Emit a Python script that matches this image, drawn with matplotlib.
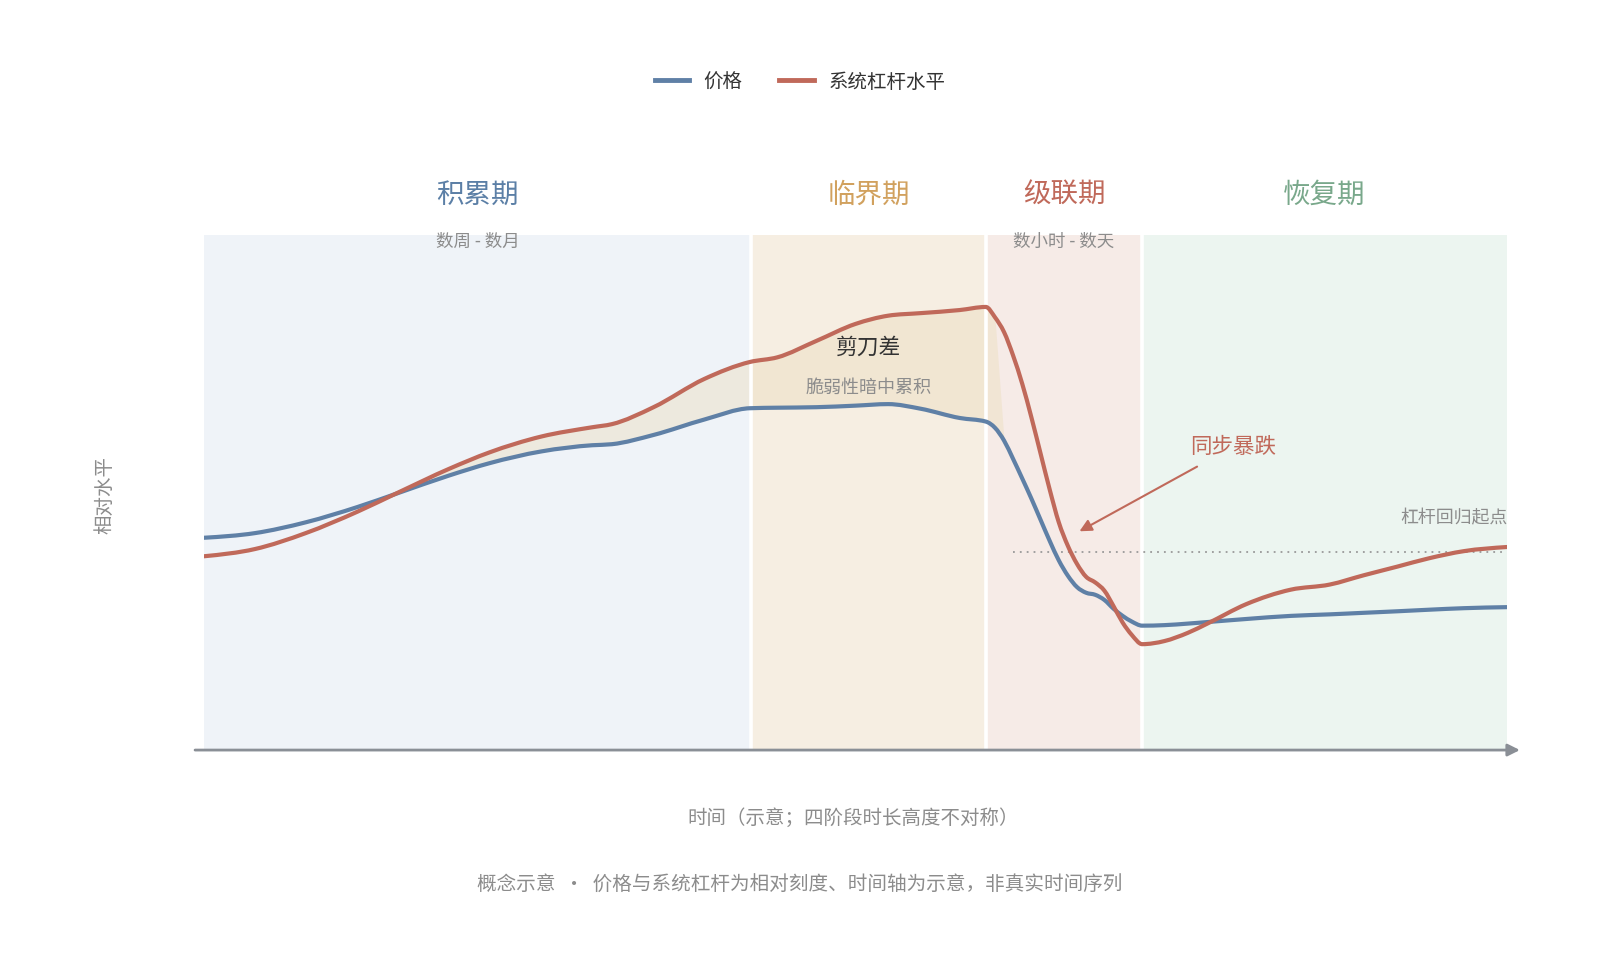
import matplotlib
matplotlib.use("Agg")
import matplotlib.pyplot as plt
from matplotlib.path import Path
from matplotlib.patches import PathPatch
from matplotlib.lines import Line2D
import numpy as np

plt.rcParams['font.family'] = ['Noto Sans CJK SC', 'DejaVu Sans']

# time axis (schematic units 0-100) shared by both series
t = [0, 3.9, 7.8, 11.8, 14.9, 18.8, 21.9, 25.9, 29.8, 31.3, 34.5, 38.4, 41.9,
     44, 47, 50, 52.5, 55, 58, 60, 60.7, 61.4, 62.1, 62.8, 63.5, 64.2, 64.9,
     65.6, 66.3, 67.0, 67.7, 68.4, 69.1, 69.8, 70.5, 71.2, 72.0, 73.7, 75.5,
     77, 80, 83.4, 86.4, 89, 91.6, 94, 96.7, 100]
price = [41.1, 42.0, 44.1, 47.1, 49.8, 53.2, 55.6, 57.9, 59.1, 59.3, 61.1, 64.1, 66.3,
         66.4, 66.5, 66.8, 67.1, 66.2, 64.4, 63.7, 62.5, 60.0, 56.4, 52.6, 48.7, 44.6, 40.5,
         36.7, 33.7, 31.5, 30.4, 30.0, 29.0, 27.3, 25.9, 24.8, 24.0, 24.1, 24.4,
         24.7, 25.3, 25.9, 26.2, 26.5, 26.8, 27.1, 27.4, 27.6]
leverage = [37.5, 38.9, 42.0, 46.2, 49.9, 54.5, 57.7, 60.8, 62.6, 63.2, 66.5, 72.0, 75.3,
            76.2, 79.4, 82.7, 84.3, 84.8, 85.4, 86.0, 84.0, 81.1, 76.5, 71.0, 64.5, 57.5, 50.5,
            44.1, 39.5, 36.0, 33.5, 32.4, 30.8, 27.8, 24.6, 22.2, 20.4, 21.0, 22.6,
            24.4, 28.2, 31.0, 32.0, 33.8, 35.5, 37.1, 38.5, 39.3]

# phases
phase_names = ['积累期', '临界期', '级联期', '恢复期']
phase_spans = [(0, 42), (42, 60), (60, 72), (72, 100)]
phase_sub = ['数周 - 数月', '', '数小时 - 数天', '']
phase_bg = ['#EFF3F8', '#F6EEE2', '#F6EBE7', '#ECF5F0']
phase_fg = ['#5B7FA6', '#D1A15E', '#C0695A', '#79A88B']

baseline_level = 38.4
scissor_end = 60.7

BLUE = '#5F80A6'
RED = '#C0695A'
GREY = '#8a8f96'


def monotone_path(x, y):
    # smooth monotone cubic through the points, as bezier segments
    x = np.asarray(x, float)
    y = np.asarray(y, float)
    h = np.diff(x)
    d = np.diff(y) / h
    m = np.zeros_like(y)
    for k in range(1, len(x) - 1):
        s0, s1 = d[k - 1], d[k]
        p = (s0 * h[k] + s1 * h[k - 1]) / (h[k - 1] + h[k])
        m[k] = (np.sign(s0) + np.sign(s1)) * min(abs(s0), abs(s1), 0.5 * abs(p))
    m[0] = (3 * d[0] - m[1]) / 2
    m[-1] = (3 * d[-1] - m[-2]) / 2
    verts = [(x[0], y[0])]
    codes = [Path.MOVETO]
    for k in range(len(x) - 1):
        dx = h[k] / 3
        verts += [(x[k] + dx, y[k] + dx * m[k]), (x[k + 1] - dx, y[k + 1] - dx * m[k + 1]),
                  (x[k + 1], y[k + 1])]
        codes += [Path.CURVE4] * 3
    return Path(verts, codes)


fig = plt.figure(figsize=(16, 9.78), dpi=100)
ax = fig.add_axes([0.1275, 0.2331, 0.8144, 0.5256])
ax.set_xlim(0, 100)
ax.set_ylim(0, 100)
ax.axis('off')

for (a, b), bg, fg, name, sub in zip(phase_spans, phase_bg, phase_fg, phase_names, phase_sub):
    ax.axvspan(a, b, color=bg, lw=0, zorder=0)
    ax.text((a + b) / 2, 107.9, name, ha='center', va='center', fontsize=19.8, color=fg)
    if sub:
        ax.text((a + b) / 2, 98.8, sub, ha='center', va='center', fontsize=12.6, color='#8c8c8c')

t_arr = np.array(t)
p_arr = np.array(price)
l_arr = np.array(leverage)
ax.fill_between(t_arr, p_arr, l_arr, where=(l_arr >= p_arr) & (t_arr <= scissor_end),
                interpolate=True, color='#EBDDBC', alpha=0.42, lw=0, zorder=1)

for b in [42, 60, 72]:
    ax.axvline(b, color='white', lw=2.6, zorder=2)

for vals, col in [(price, BLUE), (leverage, RED)]:
    ax.add_patch(PathPatch(monotone_path(t, vals), fill=False, edgecolor=col, lw=3,
                           capstyle='round', joinstyle='round', zorder=4))

# reference line for leverage baseline
ax.plot([62.1, 100], [baseline_level, baseline_level], color='#999999', lw=1.3,
        ls=(0, (1, 2.8)), zorder=3)
ax.text(100, 45.0, '杠杆回归起点', ha='right', va='center', fontsize=12.9, color='#8c8c8c')

ax.text(51, 78.3, '剪刀差', ha='center', va='center', fontsize=15.7, color='#333333', zorder=5)
ax.text(51, 70.4, '脆弱性暗中累积', ha='center', va='center', fontsize=13, color='#8c8c8c', zorder=5)

ax.text(79.0, 59.0, '同步暴跌', ha='center', va='center', fontsize=15.5, color=RED)
ax.annotate('', xy=(67.0, 42.1), xytext=(76.4, 55.2),
            arrowprops=dict(arrowstyle='-|>', color=RED, lw=1.5, mutation_scale=18))

# time axis arrow
ax.annotate('', xy=(101.2, -0.2), xytext=(-0.9, -0.2), annotation_clip=False,
            arrowprops=dict(arrowstyle='-|>', color=GREY, lw=2, mutation_scale=18))

fig.text(0.0655, 0.494, '相对水平', rotation=90, ha='center', va='center', fontsize=14, color='#8c8c8c')
fig.text(0.5335, 1 - 818 / 978, '时间（示意；四阶段时长高度不对称）', ha='center', va='center',
         fontsize=14.0, color='#8c8c8c')
fig.text(0.5, 1 - 885 / 978, '概念示意  ·  价格与系统杠杆为相对刻度、时间轴为示意，非真实时间序列',
         ha='center', va='center', fontsize=14.1, color='#8c8c8c')

handles = [Line2D([], [], color=BLUE, lw=3.5), Line2D([], [], color=RED, lw=3.5)]
fig.legend(handles, ['价格', '系统杠杆水平'], loc='center', bbox_to_anchor=(0.5, 0.916), ncol=2,
           frameon=False, fontsize=14, handlelength=1.75, handletextpad=0.77,
           columnspacing=1.9, labelcolor='#333333')

fig.savefig('out.png', dpi=100, facecolor='white')
